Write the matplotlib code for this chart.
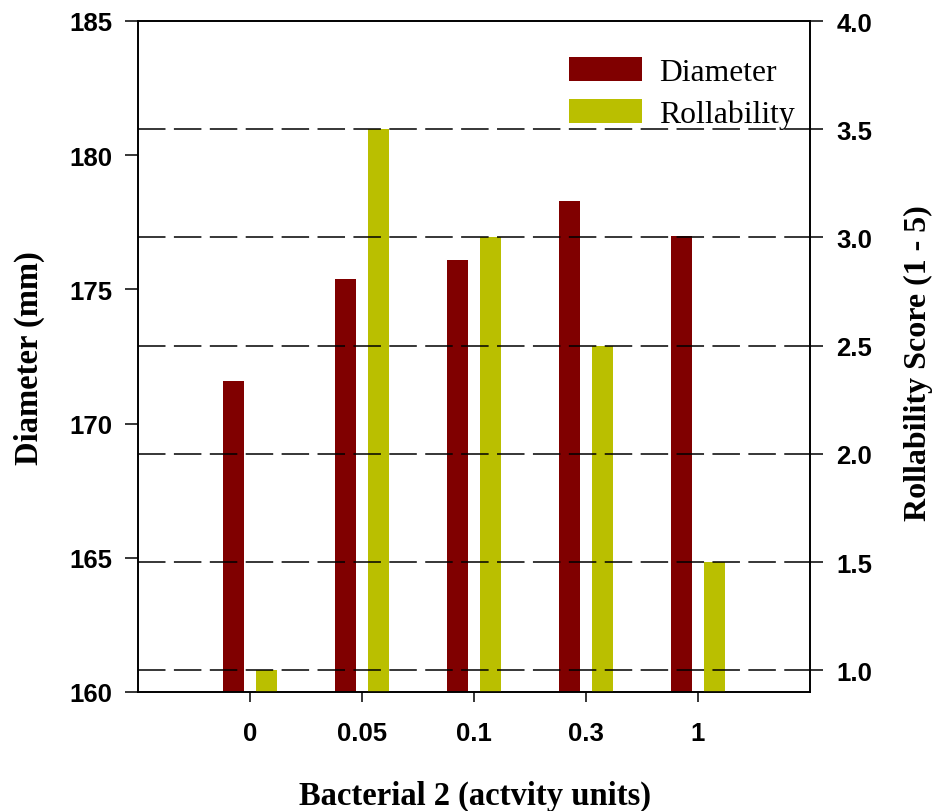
import matplotlib
matplotlib.use("Agg")
import matplotlib.pyplot as plt
import numpy as np

# Data
doses = ["0", "0.05", "0.1", "0.3", "1"]
diameter_mm = [171.6, 175.4, 176.1, 178.3, 177.0]
rollability = [1.0, 3.5, 3.0, 2.5, 1.5]
left_ticks = [160, 165, 170, 175, 180, 185]
right_ticks = [1.0, 1.5, 2.0, 2.5, 3.0, 3.5, 4.0]

DIAM_COLOR = "#800000"
ROLL_COLOR = "#BABF00"
SANS = "Liberation Sans"
SERIF = "Liberation Serif"

W, H = 939, 812
fig = plt.figure(figsize=(W / 100, H / 100), dpi=100)
ax = fig.add_axes([138 / W, 1 - 693 / H, (810 - 138) / W, (693 - 22) / H])
ax2 = ax.twinx()

x = np.arange(len(doses))
width = 0.19
offset = 0.15

b1 = ax.bar(x - offset, diameter_mm, width, color=DIAM_COLOR, zorder=2,
            label="Diameter")
b2 = ax2.bar(x + offset, rollability, width, color=ROLL_COLOR, zorder=2,
             label="Rollability")

ax.set_xlim(-1, 5)
ax.set_ylim(160, 185)
ax2.set_ylim(0.9, 4.0)

ax.set_xticks(x)
ax.set_xticklabels(doses)
ax.set_yticks(left_ticks)
ax.set_yticklabels([str(t) for t in left_ticks])
ax2.set_yticks(right_ticks)
ax2.set_yticklabels([f"{t:.1f}" for t in right_ticks])

# dashed reference lines at the rollability ticks, drawn over the bars
for t in right_ticks[:-1]:
    ax2.axhline(t, color="black", lw=1.1, linestyle=(0, (18, 5.5)), zorder=3)

for a in (ax, ax2):
    for s in a.spines.values():
        s.set_linewidth(1.2)
        s.set_color("black")

ax.tick_params(axis="y", direction="out", length=9.5, width=1.1, pad=9,
               labelsize=18.5)
ax.tick_params(axis="x", direction="out", length=7.2, width=1.1, pad=14,
               labelsize=18.5)
ax2.tick_params(axis="y", direction="out", length=9, width=1.1, pad=10,
                labelsize=18.5)
for lab in ax.get_xticklabels() + ax.get_yticklabels() + ax2.get_yticklabels():
    lab.set_fontfamily(SANS)
    lab.set_fontweight("bold")

fig.text(29 / W, 1 - 358 / H, "Diameter (mm)", rotation=90, ha="center",
         va="center", fontsize=23.5, fontweight="bold", family=SERIF)
fig.text(918 / W, 1 - 363 / H, "Rollability Score (1 - 5)", rotation=90,
         ha="center", va="center", fontsize=23, fontweight="bold",
         family=SERIF)
fig.text(475 / W, 1 - 805 / H, "Bacterial 2 (actvity units)", ha="center",
         va="baseline", fontsize=23.5, fontweight="bold", family=SERIF)

leg = ax2.legend(handles=[b1, b2], loc="upper left",
                 bbox_to_anchor=(569 / W, 1 - 58 / H),
                 bbox_transform=fig.transFigure, frameon=False,
                 prop={"family": SERIF, "size": 22.8}, borderpad=0,
                 borderaxespad=0, handlelength=2.3, handleheight=0.8,
                 handletextpad=0.55, labelspacing=0.36)

fig.savefig("out.png", dpi=100)
